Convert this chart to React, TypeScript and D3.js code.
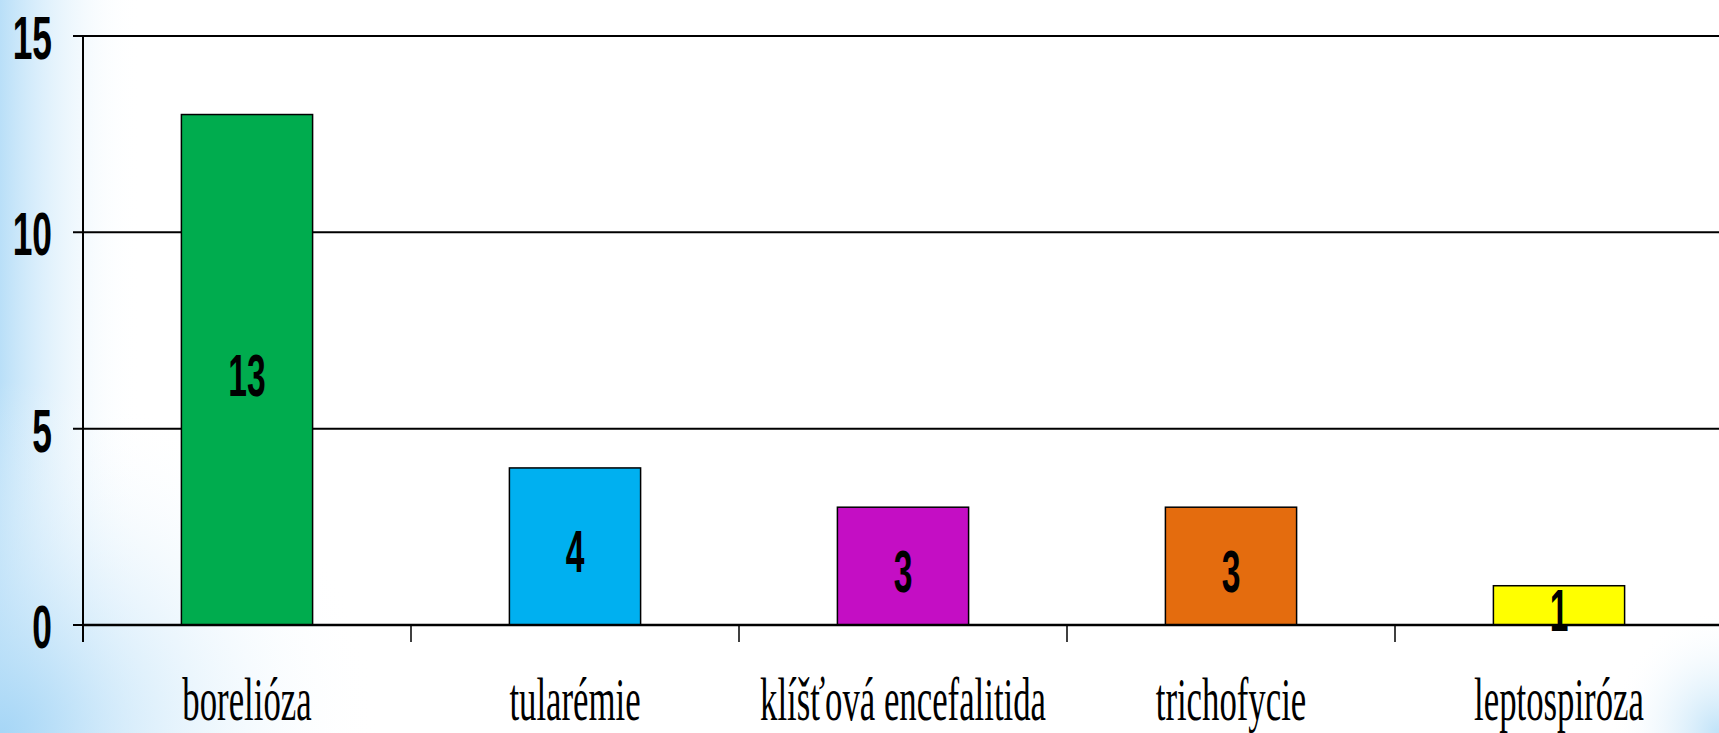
import React from "react";
import * as d3 from "d3";

const WIDTH = 1719;
const HEIGHT = 733;
const MARGIN = { top: 36, right: -4, bottom: 108, left: 83 };

const categories = ["borelióza", "tularémie", "klíšťová encefalitida", "trichofycie", "leptospiróza"];
const values = [13, 4, 3, 3, 1];
const barColors = ["#00AC4E", "#00B0F0", "#C40EC4", "#E46C0E", "#FFFF00"];
const yTicks = [0, 5, 10, 15];

const SQUEEZE = 0.57;

const App = () => {
  const boundsWidth = WIDTH - MARGIN.left - MARGIN.right;
  const boundsHeight = HEIGHT - MARGIN.top - MARGIN.bottom;

  const xScale = d3
    .scaleBand()
    .domain(categories)
    .range([0, boundsWidth])
    .paddingInner(0.6)
    .paddingOuter(0.3);

  const yScale = d3.scaleLinear().domain([0, 15]).range([boundsHeight, 0]);

  // category boundaries for the x tick marks
  const step = xScale.step();
  const xTickPos = d3.range(categories.length + 1).map((i) => i * step);

  return (
    <svg
      width={WIDTH}
      height={HEIGHT}
      style={{ position: "absolute", left: 0, top: 0, background: "#fff" }}
    >
      <defs>
        <linearGradient id="leftFade" x1="0" x2="1" y1="0" y2="0">
          <stop offset="0" stopColor="#b9dff8" />
          <stop offset="1" stopColor="#ffffff" stopOpacity={0} />
        </linearGradient>
        <radialGradient id="cornerBL" cx="0" cy="1" r="1">
          <stop offset="0" stopColor="#a6d6f6" />
          <stop offset="1" stopColor="#ffffff" stopOpacity={0} />
        </radialGradient>
        <radialGradient id="cornerBR" cx="1" cy="1" r="1">
          <stop offset="0" stopColor="#bfe2f8" />
          <stop offset="1" stopColor="#ffffff" stopOpacity={0} />
        </radialGradient>
      </defs>
      <rect x={0} y={0} width={140} height={HEIGHT} fill="url(#leftFade)" />
      <rect x={0} y={380} width={380} height={353} fill="url(#cornerBL)" />
      <rect x={1610} y={610} width={109} height={123} fill="url(#cornerBR)" />

      <g transform={`translate(${MARGIN.left},${MARGIN.top})`}>
        {/* gridlines + y ticks */}
        {yTicks.map((t) => (
          <g key={t}>
            <line x1={-10} x2={boundsWidth} y1={yScale(t)} y2={yScale(t)} stroke="#000" strokeWidth={2} />
            <text
              transform={`translate(${-31},${yScale(t) + 23}) scale(${SQUEEZE},1)`}
              textAnchor="end"
              fontFamily="'Liberation Sans', Arial, sans-serif"
              fontWeight="bold"
              fontSize={62}
              fill="#000"
            >
              {t}
            </text>
          </g>
        ))}

        {/* y axis */}
        <line x1={0} x2={0} y1={0} y2={boundsHeight + 17} stroke="#000" strokeWidth={2} />

        {/* x tick marks */}
        {xTickPos.map((x, i) => (
          <line key={i} x1={x} x2={x} y1={boundsHeight} y2={boundsHeight + 17} stroke="#000" strokeWidth={1.5} />
        ))}

        {/* bars */}
        {categories.map((c, i) => (
          <g key={c}>
            <rect
              x={xScale(c)}
              y={yScale(values[i])}
              width={xScale.bandwidth()}
              height={boundsHeight - yScale(values[i])}
              fill={barColors[i]}
              stroke="#000"
              strokeWidth={1.5}
            />
            <text
              transform={`translate(${(xScale(c) || 0) + xScale.bandwidth() / 2},${
                (yScale(values[i]) + boundsHeight) / 2 + 26
              }) scale(${SQUEEZE},1)`}
              textAnchor="middle"
              fontFamily="'Liberation Sans', Arial, sans-serif"
              fontWeight="bold"
              fontSize={59}
              fill="#000"
            >
              {values[i]}
            </text>
            <text
              transform={`translate(${(xScale(c) || 0) + xScale.bandwidth() / 2},${boundsHeight + 95}) scale(${SQUEEZE},1)`}
              textAnchor="middle"
              fontFamily="'Liberation Serif', 'Times New Roman', serif"
              fontSize={61}
              fill="#000"
            >
              {c}
            </text>
          </g>
        ))}

        {/* x axis line on top */}
        <line x1={0} x2={boundsWidth} y1={boundsHeight} y2={boundsHeight} stroke="#000" strokeWidth={2.5} />
      </g>
    </svg>
  );
};

export default App;
